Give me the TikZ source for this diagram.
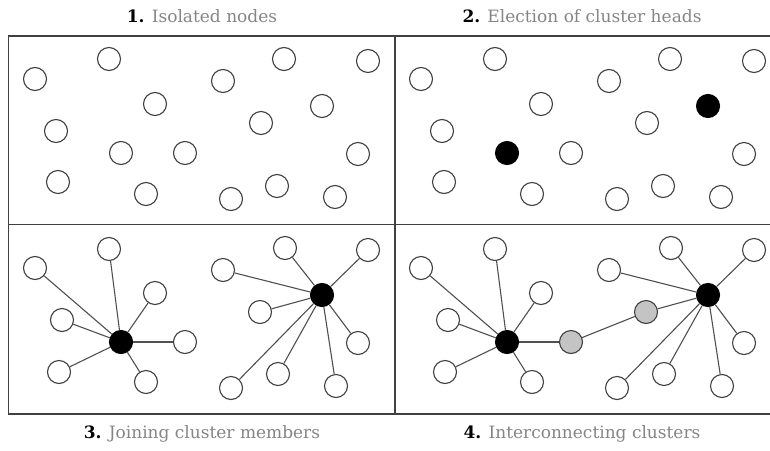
\documentclass[tikz,border=0pt]{standalone}
\usepackage{fontspec}
\setmainfont{DejaVu Serif}
\usepackage{tikz}
\usetikzlibrary{positioning}

\definecolor{rim}{HTML}{404040}
\definecolor{wire}{HTML}{505050}
\definecolor{relay}{HTML}{C4C4C4}
\definecolor{caption}{HTML}{858585}

\begin{document}
\begin{tikzpicture}[x=1pt,y=-1pt,line width=1.1pt,
  member node/.style={circle,draw=rim,fill=white,inner sep=0pt,minimum size=23pt},
  head node/.style={member node,draw=black,fill=black},
  relay node/.style={member node,fill=relay},
  title/.style={font=\fontsize{17}{20}\selectfont,text=caption}]

  \useasboundingbox (0,0) rectangle (770,450);

  % frame of the four panels
  \draw[rim,line width=1.4pt] (8.5,36) rectangle (775,414);
  \draw[rim,line width=1.4pt] (8.5,224.5) -- (775,224.5);
  \draw[rim,line width=1.4pt] (395,36) -- (395,414);

  \node[title] (t1) at (202,16) {\textcolor{black}{\textbf{1.}} Isolated nodes};
  \node[title] (t2) at (582,16) {\textcolor{black}{\textbf{2.}} Election of cluster heads};
  \node[title] (t3) at (202,434) {\textcolor{black}{\textbf{3.}} Joining cluster members};
  \node[title] (t4) at (582,434) {\textcolor{black}{\textbf{4.}} Interconnecting clusters};

  % 1. isolated nodes
  \node[member node] (a1) at (35,79) {};
  \node[member node] (a2) at (109,59) {};
  \node[member node] (a3) at (155,104) {};
  \node[member node] (a4) at (223,81) {};
  \node[member node] (a5) at (284,59) {};
  \node[member node] (a6) at (368,61) {};
  \node[member node] (a7) at (322,106) {};
  \node[member node] (a8) at (261,123) {};
  \node[member node] (a9) at (56,131) {};
  \node[member node] (a10) at (121,153) {};
  \node[member node] (a11) at (185,153) {};
  \node[member node] (a12) at (358,154) {};
  \node[member node] (a13) at (58,182) {};
  \node[member node] (a14) at (146,194) {};
  \node[member node] (a15) at (231,199) {};
  \node[member node] (a16) at (277,186) {};
  \node[member node] (a17) at (335,197) {};

  % 2. election of cluster heads
  \node[member node] (b1) at (421,79) {};
  \node[member node] (b2) at (495,59) {};
  \node[member node] (b3) at (541,104) {};
  \node[member node] (b4) at (609,81) {};
  \node[member node] (b5) at (670,59) {};
  \node[member node] (b6) at (754,61) {};
  \node[head node] (b7) at (708,106) {};
  \node[member node] (b8) at (647,123) {};
  \node[member node] (b9) at (442,131) {};
  \node[head node] (b10) at (507,153) {};
  \node[member node] (b11) at (571,153) {};
  \node[member node] (b12) at (744,154) {};
  \node[member node] (b13) at (444,182) {};
  \node[member node] (b14) at (532,194) {};
  \node[member node] (b15) at (617,199) {};
  \node[member node] (b16) at (663,186) {};
  \node[member node] (b17) at (721,197) {};

  % 3. joining cluster members
  \node[head node] (c1) at (121,342) {};
  \node[member node] (c2) at (35,268) {};
  \node[member node] (c3) at (109,249) {};
  \node[member node] (c4) at (155,293) {};
  \node[member node] (c5) at (62,320) {};
  \node[member node] (c6) at (185,342) {};
  \node[member node] (c7) at (59,372) {};
  \node[member node] (c8) at (146,382) {};
  \node[head node] (c9) at (322,295) {};
  \node[member node] (c10) at (223,270) {};
  \node[member node] (c11) at (285,248) {};
  \node[member node] (c12) at (368,250) {};
  \node[member node] (c13) at (260,312) {};
  \node[member node] (c14) at (358,343) {};
  \node[member node] (c15) at (278,374) {};
  \node[member node] (c16) at (231,388) {};
  \node[member node] (c17) at (336,386) {};

  \path[draw=wire]
    (c1) edge (c2) edge (c3) edge (c4) edge (c5) edge (c6) edge (c7) edge (c8)
    (c9) edge (c10) edge (c11) edge (c12) edge (c13) edge (c14) edge (c15)
         edge (c16) edge (c17);

  % 4. interconnecting clusters
  \node[head node] (d1) at (507,342) {};
  \node[member node] (d2) at (421,268) {};
  \node[member node] (d3) at (495,249) {};
  \node[member node] (d4) at (541,293) {};
  \node[member node] (d5) at (448,320) {};
  \node[relay node] (d6) at (571,342) {};
  \node[member node] (d7) at (445,372) {};
  \node[member node] (d8) at (532,382) {};
  \node[head node] (d9) at (708,295) {};
  \node[member node] (d10) at (609,270) {};
  \node[member node] (d11) at (671,248) {};
  \node[member node] (d12) at (754,250) {};
  \node[relay node] (d13) at (646,312) {};
  \node[member node] (d14) at (744,343) {};
  \node[member node] (d15) at (664,374) {};
  \node[member node] (d16) at (617,388) {};
  \node[member node] (d17) at (722,386) {};

  \path[draw=wire]
    (d1) edge (d2) edge (d3) edge (d4) edge (d5) edge (d6) edge (d7) edge (d8)
    (d6) edge (d13)
    (d9) edge (d10) edge (d11) edge (d12) edge (d13) edge (d14) edge (d15)
         edge (d16) edge (d17);
\end{tikzpicture}
\end{document}
